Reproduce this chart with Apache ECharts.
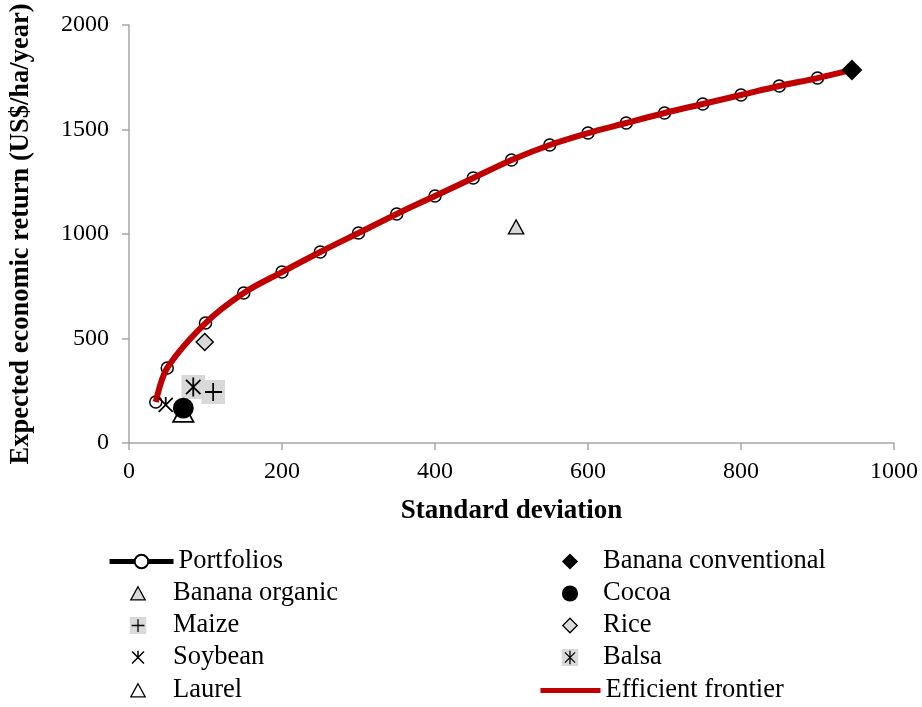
<!DOCTYPE html>
<html>
<head>
<meta charset="utf-8">
<script src="https://cdn.jsdelivr.net/npm/echarts@6/dist/echarts.min.js"></script>
<style>
html,body{margin:0;padding:0;background:#fff;}
#chart{width:922px;height:707px;}
</style>
</head>
<body>
<div id="chart"></div>
<script>
// ---- data ----
const portfolioSD = [35, 50, 100, 150, 200, 250, 300, 350, 400, 450, 500, 550, 600, 650, 700, 750, 800, 850, 900, 945];
const portfolioReturn = [196, 359, 574, 718, 818, 914, 1005, 1096, 1182, 1268, 1354, 1426, 1483, 1531, 1579, 1622, 1665, 1708, 1746, 1785];
const cropNames = ['Laurel', 'Banana organic', 'Maize', 'Soybean', 'Balsa', 'Cocoa', 'Rice', 'Banana conventional'];
const cropSD = [71, 506, 110, 48, 84, 71, 99, 945];
const cropReturn = [144, 1033, 244, 182, 268, 167, 483, 1785];
const xTicks = {min: 0, max: 1000, interval: 200};
const yTicks = {min: 0, max: 2000, interval: 500};

const SERIF = '"Liberation Serif", "Times New Roman", serif';

function svgSym(inner) {
  return 'image://data:image/svg+xml;charset=utf-8,' + encodeURIComponent(
    '<svg xmlns="http://www.w3.org/2000/svg" width="40" height="40" viewBox="0 0 40 40">' + inner + '</svg>');
}
const SYM = {
  'Laurel': svgSym('<polygon points="20,4 37,35 3,35" fill="#fff" stroke="#000" stroke-width="3"/>'),
  'Banana organic': svgSym('<polygon points="20,4 37,35 3,35" fill="#D9D9D9" stroke="#000" stroke-width="3"/>'),
  'Maize': svgSym('<rect x="0" y="0" width="40" height="40" fill="#D9D9D9"/><path d="M20 5V35M5 20H35" stroke="#000" stroke-width="3"/>'),
  'Soybean': svgSym('<path d="M6 6L34 34M34 6L6 34M20 4V18" stroke="#000" stroke-width="3.5"/>'),
  'Balsa': svgSym('<rect x="0" y="0" width="40" height="40" fill="#D9D9D9"/><path d="M8 8L32 32M32 8L8 32M20 4V36" stroke="#000" stroke-width="3"/>'),
  'Cocoa': svgSym('<circle cx="20" cy="20" r="19" fill="#000"/>'),
  'Rice': svgSym('<polygon points="20,3 37,20 20,37 3,20" fill="#D9D9D9" stroke="#000" stroke-width="3"/>'),
  'Banana conventional': svgSym('<polygon points="20,1 39,20 20,39 1,20" fill="#000"/>')
};
const SIZE = {'Laurel': 24, 'Banana organic': 18, 'Maize': 24, 'Soybean': 20, 'Balsa': 24, 'Cocoa': 22, 'Rice': 20, 'Banana conventional': 22};

const series = [
  {
    name: 'Portfolios', type: 'line', z: 2, smooth: 0.3,
    data: portfolioSD.map((x, i) => [x, portfolioReturn[i]]),
    symbol: 'circle', symbolSize: 12, showSymbol: true,
    itemStyle: {color: '#fff', borderColor: '#000', borderWidth: 1.5},
    lineStyle: {color: '#000', width: 2},
    emphasis: {disabled: true}, animation: false
  },
  {
    name: 'Efficient frontier', type: 'line', z: 3, smooth: 0.3,
    data: portfolioSD.map((x, i) => [x, portfolioReturn[i]]),
    symbol: 'none', showSymbol: false,
    itemStyle: {color: '#C00000'},
    lineStyle: {color: '#C00000', width: 6},
    emphasis: {disabled: true}, animation: false
  }
];
cropNames.forEach((n, i) => {
  series.push({
    name: n, type: 'scatter', z: 4 + i,
    data: [[cropSD[i], cropReturn[i]]],
    symbol: SYM[n], symbolSize: SIZE[n],
    itemStyle: {opacity: 1},
    emphasis: {disabled: true}, animation: false
  });
});

function legendAt(name, left, center, width, extra) {
  return Object.assign({
    data: [name], left: left, top: center - 15, orient: 'horizontal', padding: 0,
    itemWidth: width, itemHeight: 17, itemGap: 0, selectedMode: false,
    symbolKeepAspect: true,
    textStyle: {fontFamily: SERIF, fontSize: 26.5, color: '#000'}
  }, extra || {});
}
const rows = [563, 595, 627, 659, 692];
const legends = [
  legendAt('Portfolios', 107, rows[0], 64, {lineStyle: {width: 5, color: '#000'}}),
  legendAt('Banana organic', 108, rows[1], 60),
  legendAt('Maize', 108, rows[2], 60),
  legendAt('Soybean', 108, rows[3], 60),
  legendAt('Laurel', 108, rows[4], 60),
  legendAt('Banana conventional', 542, rows[0], 56),
  legendAt('Cocoa', 542, rows[1], 56),
  legendAt('Rice', 542, rows[2], 56),
  legendAt('Balsa', 542, rows[3], 56),
  legendAt('Efficient frontier', 538, rows[4], 60, {lineStyle: {width: 5, color: '#C00000'}, itemStyle: {opacity: 0, borderWidth: 0}})
];

const axisLineStyle = {color: '#A6A6A6', width: 1.5};
const plain = v => String(v);
const option = {
  backgroundColor: '#fff',
  animation: false,
  grid: {left: 129, right: 28, top: 25, bottom: 264, containLabel: false, outerBoundsMode: 'none'},
  legend: legends,
  xAxis: {
    type: 'value', min: xTicks.min, max: xTicks.max, interval: xTicks.interval,
    name: 'Standard deviation', nameLocation: 'middle', nameGap: 55,
    nameTextStyle: {fontFamily: SERIF, fontSize: 27, fontWeight: 'bold', color: '#000'},
    axisLine: {show: true, lineStyle: axisLineStyle},
    axisTick: {show: true, length: 7, lineStyle: axisLineStyle},
    splitLine: {show: false},
    axisLabel: {fontFamily: SERIF, fontSize: 24, color: '#000', margin: 17, formatter: plain}
  },
  yAxis: {
    type: 'value', min: yTicks.min, max: yTicks.max, interval: yTicks.interval,
    name: 'Expected economic return (US$/ha/year)', nameLocation: 'middle', nameGap: 94,
    nameTextStyle: {fontFamily: SERIF, fontSize: 26.5, fontWeight: 'bold', color: '#000'},
    axisLine: {show: true, lineStyle: axisLineStyle},
    axisTick: {show: true, length: 7, lineStyle: axisLineStyle},
    splitLine: {show: false},
    axisLabel: {fontFamily: SERIF, fontSize: 24, color: '#000', margin: 20, formatter: plain}
  },
  series: series
};
const chart = echarts.init(document.getElementById('chart'), null, {renderer: 'canvas'});
chart.setOption(option);
</script>
</body>
</html>
